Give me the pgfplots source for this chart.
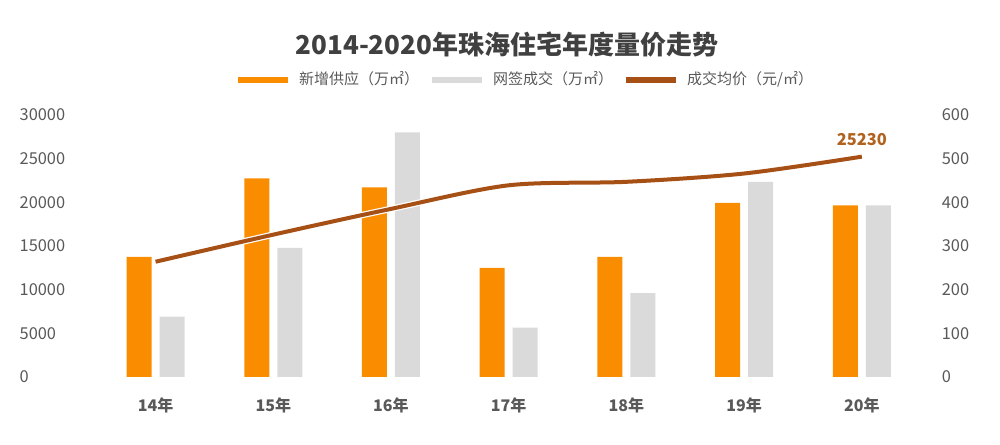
\documentclass[border=0pt]{standalone}
\usepackage{fontspec}
\setmainfont{Noto Sans CJK SC}
\usepackage{pgfplots}
\pgfplotsset{compat=1.18}
\definecolor{barorange}{RGB}{250,140,0}
\definecolor{bargray}{RGB}{218,218,218}
\definecolor{linebrown}{RGB}{166,80,22}
\definecolor{labelbrown}{RGB}{176,98,30}
\definecolor{tickgray}{RGB}{89,89,89}
\definecolor{titlegray}{RGB}{64,64,64}
\begin{document}
\begin{tikzpicture}
\useasboundingbox (0,0) rectangle (500pt,222pt);
\pgfplotsset{
  common/.style={
    at={(35.4pt,33.5pt)}, anchor=south west,
    scale only axis, width=432pt, height=131pt,
    xmin=-0.72, xmax=6.62,
    axis line style={draw=none},
    major tick length=0pt,
    scaled y ticks=false,
    tick label style={font=\fontsize{8.2}{9}\selectfont, text=tickgray},
    clip=false,
  }
}
% bars on right axis (0-600)
\begin{axis}[common,
  ymin=0, ymax=600,
  ytick={0,100,200,300,400,500,600},
  yticklabels={0,100,200,300,400,500,600},
  yticklabel pos=right,
  xtick={0,1,2,3,4,5,6},
  xticklabels={14年,15年,16年,17年,18年,19年,20年},
  xticklabel style={font=\fontsize{8}{9}\selectfont\bfseries, text=tickgray, yshift=-7pt},
]
\addplot[ybar, bar width=12.5pt, bar shift=-8.25pt, fill=barorange, draw=none]
  coordinates {(0,275) (1,455) (2,434) (3,250) (4,275) (5,399) (6,393)};
\addplot[ybar, bar width=12.5pt, bar shift=8.25pt, fill=bargray, draw=none]
  coordinates {(0,138) (1,296) (2,560) (3,113) (4,192) (5,447) (6,393)};
\end{axis}
% line on left axis (0-30000)
\begin{axis}[common,
  ymin=0, ymax=30000,
  ytick={0,5000,10000,15000,20000,25000,30000},
  yticklabels={0,5000,10000,15000,20000,25000,30000},
  yticklabel style={anchor=west, xshift=-29.1pt},
  xtick=\empty,
  legend columns=3,
  legend style={draw=none, fill=none, at={(0.527,1.134)}, anchor=center,
    font=\fontsize{7.5}{8.5}\selectfont, text=tickgray,
    /tikz/every odd column/.append style={column sep=2pt},
    /tikz/every even column/.append style={column sep=3pt}},
  legend image code/.code={\draw[#1, line width=3pt] (0pt,0pt) -- (25pt,0pt);},
]
\addlegendimage{barorange}
\addlegendentry{新增供应（万㎡）}
\addlegendimage{bargray}
\addlegendentry{网签成交（万㎡）}
\addlegendimage{linebrown}
\addlegendentry{成交均价（元/㎡）}
\addplot[forget plot, smooth, color=linebrown, line width=2pt,
  preaction={draw=white, line width=3.2pt}]
  coordinates {(0,13200) (1,16300) (2,19250) (3,21950) (4,22350) (5,23300) (6,25230)}
  node[pos=1, anchor=south, yshift=1pt, font=\fontsize{8.2}{9}\selectfont\bfseries, text=labelbrown] {25230};
\end{axis}
\node[font=\fontsize{13}{15}\selectfont\bfseries, text=titlegray] at (253.5pt,199.5pt) {2014-2020年珠海住宅年度量价走势};
\end{tikzpicture}
\end{document}
